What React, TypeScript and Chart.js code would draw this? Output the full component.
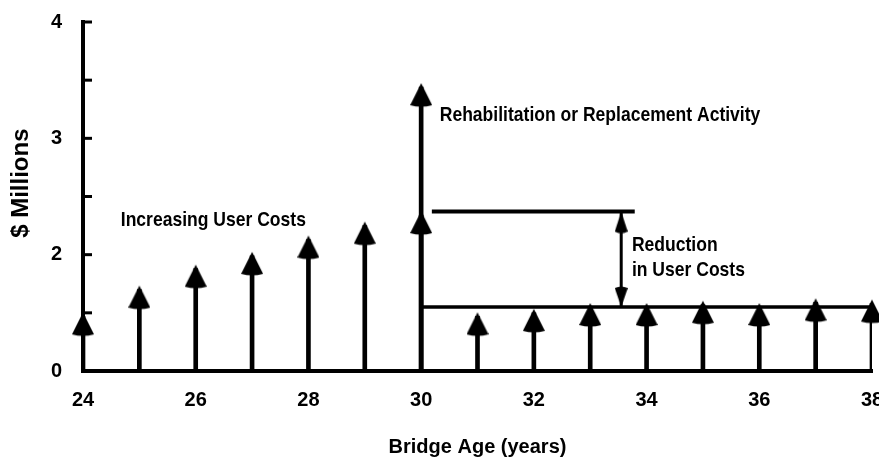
import { useEffect, useRef } from "react";
import { Chart, registerables } from "chart.js";

Chart.register(...registerables);

// ---- data ----
const years = [24, 25, 26, 27, 28, 29, 30, 31, 32, 33, 34, 35, 36, 37, 38];
const userCosts = [1.47, 1.7, 1.88, 1.99, 2.13, 2.25, 2.34, 1.47, 1.5, 1.55, 1.55, 1.57, 1.55, 1.59, 1.58];
const activityYears = [30];
const activityCosts = [3.44];
const beforeLevel = [2.37, 2.37];
const beforeSpan = [30.19, 33.79];
const afterLevel = [1.55, 1.55];
const afterSpan = [30, 38];
const reductionYear = 33.55;
const xMin = 24;
const xMax = 38;
const xStep = 2;
const yTickValues = [1, 1.5, 2, 2.5, 3, 3.5, 4];
const yTickLabels = ["0", "", "2", "", "3", "", "4"];
const annotationTexts = [
  "Rehabilitation or Replacement Activity",
  "Increasing User Costs",
  "Reduction",
  "in User Costs",
];
const annotationX = [30.33, 24.67, 33.74, 33.74];
const annotationY = [3.2, 2.3, 2.08, 1.87];

const FONT = '"Liberation Sans", Arial, sans-serif';

function makeHead(w: number, h: number, up: boolean, lift: number): HTMLCanvasElement {
  const c = document.createElement("canvas");
  const H = h + lift;
  c.width = w;
  c.height = H * 2;
  const ctx = c.getContext("2d")!;
  ctx.fillStyle = "#000";
  ctx.beginPath();
  if (up) {
    const tip = H - lift;
    const base = tip + h;
    ctx.moveTo(w / 2, tip);
    ctx.lineTo(w, base - 2);
    ctx.quadraticCurveTo(w / 2, base + 1, 0, base - 2);
  } else {
    const tip = H + lift;
    const base = tip - h;
    ctx.moveTo(w / 2, tip);
    ctx.lineTo(w, base + 2);
    ctx.quadraticCurveTo(w / 2, base - 1, 0, base + 2);
  }
  ctx.closePath();
  ctx.fill();
  return c;
}

const tickMarks = {
  id: "tickMarks",
  afterDatasetsDraw(chart: any) {
    const y = chart.scales.y;
    const ctx = chart.ctx;
    ctx.save();
    ctx.strokeStyle = "#000";
    ctx.lineWidth = 3;
    y.ticks.forEach((t: any) => {
      const py = y.getPixelForValue(t.value);
      ctx.beginPath();
      ctx.moveTo(y.right, py);
      ctx.lineTo(y.right + 9, py);
      ctx.stroke();
    });
    ctx.restore();
  },
};

const annotationPlugin = {
  id: "annotationText",
  afterDraw(chart: any) {
    const { ctx, scales } = chart;
    ctx.save();
    ctx.fillStyle = "#000";
    ctx.font = `bold 21px ${FONT}`;
    ctx.textAlign = "left";
    ctx.textBaseline = "middle";
    annotationTexts.forEach((t, i) => {
      ctx.save();
      ctx.translate(scales.x.getPixelForValue(annotationX[i]), scales.y.getPixelForValue(annotationY[i]));
      ctx.scale(0.835, 1);
      ctx.fillText(t, 0, 0);
      ctx.restore();
    });
    ctx.restore();
  },
};

export default function App() {
  const ref = useRef<HTMLCanvasElement>(null);

  useEffect(() => {
    document.body.style.margin = "0";
    const bigHead = makeHead(22, 24, true, 4);
    const smallUp = makeHead(13, 22, true, 0);
    const smallDown = makeHead(13, 21, false, 0);

    const headPoints = years.map((x, i) => ({ x, y: userCosts[i] }));
    activityYears.forEach((x, i) => headPoints.push({ x, y: activityCosts[i] }));

    const chart = new Chart(ref.current!, {
      type: "bar",
      data: {
        datasets: [
          {
            type: "line",
            label: "heads",
            data: headPoints,
            showLine: false,
            pointStyle: bigHead as any,
            pointRadius: 4,
            clip: false as any,
            order: 0,
          },
          {
            type: "line",
            label: "reduction",
            data: [
              { x: reductionYear, y: beforeLevel[0] },
              { x: reductionYear, y: afterLevel[0] },
            ],
            borderColor: "#000",
            borderWidth: 3,
            pointStyle: [smallUp, smallDown] as any,
            pointRadius: 4,
            clip: false as any,
            order: 1,
          },
          {
            type: "line",
            label: "before",
            data: beforeSpan.map((x, i) => ({ x, y: beforeLevel[i] })),
            borderColor: "#000",
            borderWidth: 4,
            pointRadius: 0,
            order: 2,
          },
          {
            type: "line",
            label: "after",
            data: afterSpan.map((x, i) => ({ x, y: afterLevel[i] })),
            borderColor: "#000",
            borderWidth: 3.5,
            pointRadius: 0,
            order: 3,
          },
          {
            type: "bar",
            label: "user costs",
            data: years.map((x, i) => ({ x, y: userCosts[i] })),
            backgroundColor: "#000",
            barThickness: 4,
            grouped: false,
            base: 1,
            order: 4,
          } as any,
          {
            type: "bar",
            label: "activity",
            data: activityYears.map((x, i) => ({ x, y: activityCosts[i] })),
            backgroundColor: "#000",
            barThickness: 4,
            grouped: false,
            base: 1,
            order: 5,
          } as any,
        ],
      },
      options: {
        animation: false,
        responsive: false,
        maintainAspectRatio: false,
        devicePixelRatio: 1,
        layout: { padding: { top: 22, left: 0, right: 0, bottom: 0 } },
        plugins: { legend: { display: false }, tooltip: { enabled: false } },
        scales: {
          x: {
            type: "linear",
            offset: false,
            min: xMin,
            max: xMax,
            grid: { display: false },
            border: { display: true, color: "#000", width: 4 },
            ticks: {
              stepSize: xStep,
              color: "#000",
              padding: 9,
              font: { family: FONT, size: 20, weight: "bold" },
              maxRotation: 0,
            },
            title: {
              display: true,
              text: "Bridge Age (years)",
              color: "#000",
              font: { family: FONT, size: 20, weight: "bold", lineHeight: 1 },
              padding: { top: 0, bottom: 2 },
            },
            afterFit(scale: any) {
              scale.paddingLeft = 0;
              scale.paddingRight = 0;
              scale.height = 88;
            },
          },
          y: {
            type: "linear",
            min: yTickValues[0],
            max: yTickValues[yTickValues.length - 1],
            beginAtZero: false,
            grid: { display: false },
            border: { display: true, color: "#000", width: 4 },
            ticks: {
              stepSize: 0.5,
              color: "#000",
              padding: 13,
              font: { family: FONT, size: 20, weight: "bold" },
              callback: (v: any) => {
                const i = yTickValues.indexOf(Number(v));
                return i >= 0 ? yTickLabels[i] : "";
              },
            },
            title: {
              display: true,
              text: "    $ Millions",
              color: "#000",
              font: { family: FONT, size: 24, weight: "bold", lineHeight: 1 },
              padding: { top: 9, bottom: 0 },
            },
            afterFit(scale: any) {
              scale.width = 83;
              scale.paddingTop = 0;
              scale.paddingBottom = 0;
            },
          },
        },
      },
      plugins: [tickMarks, annotationPlugin],
    });
    return () => chart.destroy();
  }, []);

  return (
    <div style={{ position: "fixed", left: 0, top: 0, width: 879, height: 459, background: "#fff", overflow: "hidden" }}>
      <canvas ref={ref} width={879} height={459} style={{ width: 879, height: 459, display: "block" }} />
    </div>
  );
}
